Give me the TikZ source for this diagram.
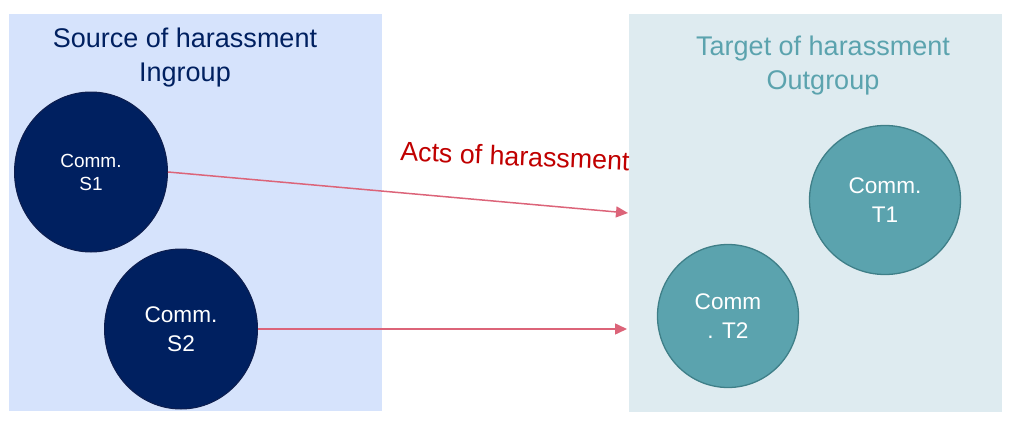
\documentclass[tikz,border=0pt]{standalone}
\usepackage{fontspec}
\setmainfont{Liberation Sans}
\usetikzlibrary{shapes.geometric,arrows.meta}
\definecolor{srcfill}{HTML}{D6E3FC}
\definecolor{tgtfill}{HTML}{DEEBF0}
\definecolor{navy}{HTML}{002060}
\definecolor{navyline}{HTML}{0E1E4E}
\definecolor{commteal}{HTML}{5BA3AE}
\definecolor{tealline}{HTML}{3F7F88}
\definecolor{harassline}{HTML}{DC6479}
\definecolor{actred}{HTML}{C00000}

\begin{document}
\begin{tikzpicture}[x=1pt,y=-1pt,
  group/.style={minimum width=373pt,minimum height=397pt,inner sep=0pt},
  title/.style={align=center,inner sep=0pt,font=\fontsize{27}{34}\selectfont},
  srccomm/.style={ellipse,fill=navy,draw=navyline,line width=1pt,text=white,align=center,inner sep=0pt,minimum width=153pt,minimum height=160pt},
  tgtcomm/.style={ellipse,fill=commteal,draw=tealline,line width=1.3pt,text=white,align=center,inner sep=0pt,font=\fontsize{22.6}{29}\selectfont},
  harass/.style={draw=harassline,line width=1.5pt,-{Triangle[length=12pt,width=11pt]}}]
\useasboundingbox (0,0) rectangle (1022,428);

\node[group,fill=srcfill] (srcbox) at (195.5,212.5) {};
\node[group,fill=tgtfill] (tgtbox) at (815.5,213) {};

\node[title,text=navy] (srctitle) at (185,58) {Source of harassment\\Ingroup};
\node[title,text=commteal] (tgttitle) at (823,66) {Target of harassment\\Outgroup};

\node[srccomm,font=\fontsize{19}{23}\selectfont] (s1) at (91,172) {Comm.\\S1};
\node[srccomm,font=\fontsize{22.6}{29}\selectfont] (s2) at (181,329) {Comm.\\S2};
\node[tgtcomm,minimum width=151pt,minimum height=149pt] (t1) at (885,200) {Comm.\\T1};
\node[tgtcomm,minimum width=141pt,minimum height=143pt] (t2) at (728,316) {Comm\\. T2};

\coordinate (h1) at (628,213);
\coordinate (h2) at (627,329);
\draw[harass] (s1.east) -- (h1);
\draw[harass] (s2.east) -- (h2);
\node[rotate=-2.5,text=actred,inner sep=0pt,font=\fontsize{26.8}{30}\selectfont] (acts) at (515,156) {Acts of harassment};

\end{tikzpicture}
\end{document}
